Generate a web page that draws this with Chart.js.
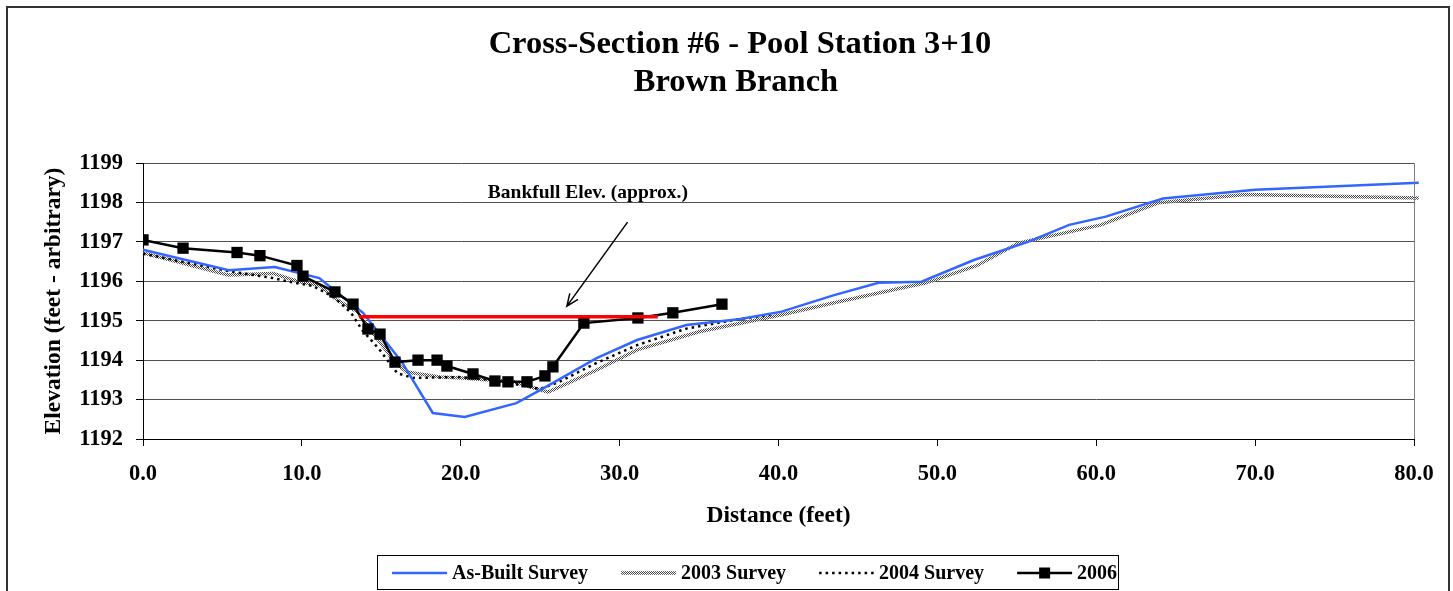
<!DOCTYPE html>
<html>
<head>
<meta charset="utf-8">
<script src="https://cdn.jsdelivr.net/npm/chart.js"></script>
<style>
  html, body { margin: 0; padding: 0; background: #fff; }
  #wrap { width: 1453px; height: 591px; }
</style>
</head>
<body>
<div id="wrap"><canvas id="xsChart" width="1453" height="591"></canvas></div>
<script>
// survey data (distance ft, elevation ft)
var asBuiltX = [0, 5.4, 8.3, 11.1, 11.8, 13.85, 16.3, 18.24, 20.25, 23.5, 25.0, 28.55, 31.1, 34.2, 37.5, 40.2, 43.5, 46.3, 49.0, 52.3, 55.7, 58.3, 60.6, 64.2, 70.0, 80.3];
var asBuiltY = [1196.8, 1196.28, 1196.36, 1196.08, 1195.85, 1195.2, 1193.95, 1192.66, 1192.56, 1192.91, 1193.24, 1194.05, 1194.51, 1194.89, 1195.04, 1195.23, 1195.65, 1195.96, 1195.99, 1196.54, 1197.0, 1197.43, 1197.64, 1198.1, 1198.32, 1198.5];

var s2003X = [0, 5.35, 8.2, 9.7, 11.1, 12.2, 13.5, 14.1, 15.85, 16.6, 18.7, 20.1, 23.3, 25.5, 28.55, 31.1, 35.0, 40.2, 44.0, 48.1, 49.3, 52.5, 55.1, 60.3, 63.9, 69.4, 80.3];
var s2003Y = [1196.72, 1196.16, 1196.2, 1196.0, 1195.9, 1195.53, 1195.22, 1194.89, 1193.95, 1193.7, 1193.57, 1193.55, 1193.45, 1193.19, 1193.75, 1194.26, 1194.72, 1195.15, 1195.5, 1195.86, 1195.96, 1196.4, 1196.97, 1197.43, 1197.99, 1198.2, 1198.11];

var s2004X = [0, 5.5, 8.2, 9.05, 10.7, 12.0, 13.1, 13.8, 14.9, 16.0, 17.0, 19.9, 22.0, 25.0, 26.2, 28.55, 31.1, 34.2, 37.5, 39.5];
var s2004Y = [1196.7, 1196.25, 1196.08, 1196.0, 1195.88, 1195.6, 1195.2, 1194.76, 1194.26, 1193.67, 1193.55, 1193.57, 1193.5, 1193.27, 1193.45, 1193.93, 1194.38, 1194.8, 1195.04, 1195.15];

var s2006X = [0, 2.52, 5.92, 7.36, 9.69, 10.07, 12.08, 13.22, 14.16, 14.92, 15.86, 17.31, 18.51, 19.13, 20.77, 22.15, 22.97, 24.17, 25.3, 25.8, 27.75, 31.15, 33.35, 36.44];
var s2006Y = [1197.05, 1196.84, 1196.73, 1196.65, 1196.4, 1196.13, 1195.73, 1195.42, 1194.79, 1194.66, 1193.95, 1194.0, 1194.0, 1193.85, 1193.65, 1193.47, 1193.45, 1193.45, 1193.6, 1193.83, 1194.94, 1195.07, 1195.2, 1195.42];

var bankfullX = [13.6, 32.4];
var bankfullY = [1195.1, 1195.1];

// annotation: label position and arrow (tail -> head), in data units
var noteText = "Bankfull Elev. (approx.)";
var notePos = [28.0, 1198.24];
var arrowFrom = [30.5, 1197.5];
var arrowTo = [26.68, 1195.37];

var titleLines = ["Cross-Section #6 - Pool Station 3+10", "Brown Branch"];
var xTitle = "Distance (feet)";
var yTitle = "Elevation (feet - arbitrary)";
var legendNames = ["As-Built Survey", "2003 Survey", "2004 Survey", "2006"];

var SERIF = "'Liberation Serif', 'Times New Roman', serif";

function pairs(xs, ys) {
  return xs.map(function (x, i) {
    return { x: x, y: ys[i] };
  });
}

var ctx = document.getElementById("xsChart").getContext("2d");

// stippled pattern for the 2003 line
function makeStipple() {
  var c = document.createElement("canvas");
  c.width = 2;
  c.height = 2;
  var g = c.getContext("2d");
  g.fillStyle = "#444";
  g.fillRect(0, 0, 1, 1);
  g.fillRect(1, 1, 1, 1);
  g.fillStyle = "rgba(255,255,255,0.6)";
  g.fillRect(1, 0, 1, 1);
  g.fillRect(0, 1, 1, 1);
  return ctx.createPattern(c, "repeat");
}
var stipple = makeStipple();

var blue = "#3366ff";

// draws the titles, the arrow note, the legend box and the outer frame
var extrasPlugin = {
  id: "extras",
  afterDatasetsDraw: function (chart) {
    var c = chart.ctx;
    var xs = chart.scales.x, ys = chart.scales.y;
    c.save();
    c.fillStyle = "#000";
    c.font = "bold 19.5px " + SERIF;
    c.textAlign = "center";
    c.textBaseline = "middle";
    c.fillText(noteText, xs.getPixelForValue(notePos[0]), ys.getPixelForValue(notePos[1]));

    var x1 = xs.getPixelForValue(arrowFrom[0]), y1 = ys.getPixelForValue(arrowFrom[1]);
    var x2 = xs.getPixelForValue(arrowTo[0]), y2 = ys.getPixelForValue(arrowTo[1]);
    c.strokeStyle = "#000";
    c.lineWidth = 1.5;
    c.beginPath();
    c.moveTo(x1, y1);
    c.lineTo(x2, y2);
    var ang = Math.atan2(y2 - y1, x2 - x1);
    var hl = 13;
    c.moveTo(x2 - hl * Math.cos(ang - 0.4), y2 - hl * Math.sin(ang - 0.4));
    c.lineTo(x2, y2);
    c.lineTo(x2 - hl * Math.cos(ang + 0.4), y2 - hl * Math.sin(ang + 0.4));
    c.stroke();
    c.restore();
  },
  afterDraw: function (chart) {
    var c = chart.ctx;
    var a = chart.chartArea;
    c.save();
    // chart title
    c.fillStyle = "#000";
    c.font = "bold 32.5px " + SERIF;
    c.textAlign = "center";
    c.textBaseline = "middle";
    c.fillText(titleLines[0], 740, 45);
    c.fillText(titleLines[1], 736, 83);

    // plot area right edge
    c.strokeStyle = "#808080";
    c.lineWidth = 1;
    c.beginPath();
    c.moveTo(Math.round(a.right) + 0.5, a.top);
    c.lineTo(Math.round(a.right) + 0.5, a.bottom);
    c.stroke();

    // outer frame
    c.strokeStyle = "#333";
    c.lineWidth = 2;
    c.strokeRect(7, 7, 1442, 620);

    // legend
    c.strokeStyle = "#000";
    c.lineWidth = 1;
    c.strokeRect(377.5, 555.5, 741, 34);
    c.font = "bold 20px " + SERIF;
    c.textBaseline = "middle";
    c.textAlign = "left";
    var ly = 573;
    var lx = 392;
    var sample = 55;
    legendNames.forEach(function (name, i) {
      var ds = chart.data.datasets[i];
      c.save();
      c.beginPath();
      c.strokeStyle = ds.borderColor;
      c.lineWidth = ds.borderWidth;
      c.setLineDash(ds.borderDash || []);
      c.moveTo(lx, ly);
      c.lineTo(lx + sample, ly);
      c.stroke();
      c.restore();
      if (ds.pointRadius > 0) {
        c.fillStyle = "#000";
        c.fillRect(lx + sample / 2 - 5.5, ly - 5.5, 11, 11);
      }
      c.fillStyle = "#000";
      c.fillText(name, lx + sample + 5, ly + 1);
      lx += sample + 5 + c.measureText(name).width + 33;
    });
    c.restore();
  }
};

var chart = new Chart(ctx, {
  type: "scatter",
  data: {
    datasets: [
      {
        label: legendNames[0],
        data: pairs(asBuiltX, asBuiltY),
        showLine: true,
        borderColor: blue,
        backgroundColor: blue,
        borderWidth: 2.5,
        pointRadius: 0,
        clip: false,
        order: 2
      },
      {
        label: legendNames[1],
        data: pairs(s2003X, s2003Y),
        showLine: true,
        borderColor: stipple,
        backgroundColor: "#888",
        borderWidth: 3.5,
        pointRadius: 0,
        clip: false,
        order: 4
      },
      {
        label: legendNames[2],
        data: pairs(s2004X, s2004Y),
        showLine: true,
        borderColor: "#000",
        backgroundColor: "#000",
        borderWidth: 2.5,
        borderDash: [2.5, 4],
        pointRadius: 0,
        order: 3
      },
      {
        label: legendNames[3],
        data: pairs(s2006X, s2006Y),
        showLine: true,
        borderColor: "#000",
        backgroundColor: "#000",
        borderWidth: 2.5,
        pointStyle: "rect",
        pointRadius: 8,
        pointBorderWidth: 0,
        order: 1
      },
      {
        label: "Bankfull",
        data: pairs(bankfullX, bankfullY),
        showLine: true,
        borderColor: "#ff0000",
        borderWidth: 3.5,
        pointRadius: 0,
        order: 0
      }
    ]
  },
  options: {
    responsive: false,
    animation: false,
    layout: { padding: { left: 0, right: 39, top: 163, bottom: 57 } },
    plugins: {
      legend: { display: false },
      tooltip: { enabled: false },
      title: { display: false }
    },
    scales: {
      x: {
        type: "linear",
        min: 0,
        max: 80,
        afterFit: function (scale) { scale.height = 95; },
        ticks: {
          stepSize: 10,
          padding: 14.5,
          color: "#000",
          font: { family: SERIF, size: 22.5, weight: "bold" },
          callback: function (v) { return v.toFixed(1); }
        },
        grid: { drawOnChartArea: false, tickLength: 7, tickColor: "#000" },
        border: { color: "#000", width: 1 },
        title: {
          display: true,
          text: xTitle,
          color: "#000",
          font: { family: SERIF, size: 23.5, weight: "bold" },
          padding: { top: 0, bottom: 4 }
        }
      },
      y: {
        min: 1192,
        max: 1199,
        afterFit: function (scale) { scale.width = 143; },
        ticks: {
          stepSize: 1,
          padding: 13,
          color: "#000",
          font: { family: SERIF, size: 22.5, weight: "bold" },
          callback: function (v) { return v; }
        },
        grid: { color: "#505050", lineWidth: 1, tickLength: 7, tickColor: "#000" },
        border: { color: "#000", width: 1 },
        title: {
          display: true,
          text: yTitle,
          color: "#000",
          font: { family: SERIF, size: 23.5, weight: "bold" },
          padding: { top: 40, bottom: 0 }
        }
      }
    }
  },
  plugins: [extrasPlugin]
});
</script>
</body>
</html>
